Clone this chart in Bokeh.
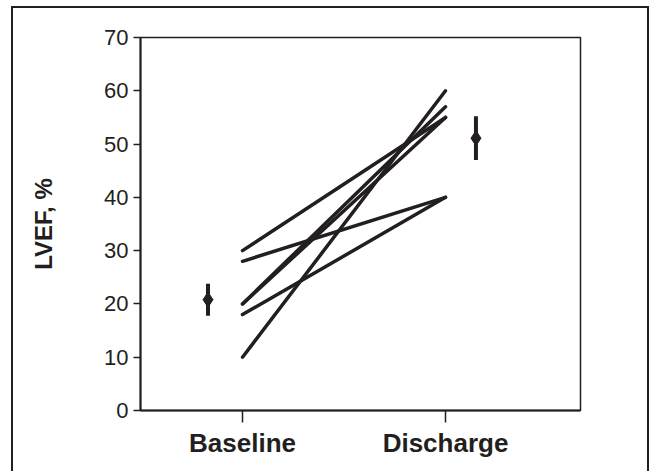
from bokeh.plotting import figure
from bokeh.models import Range1d, FixedTicker
from bokeh.embed import file_html
from bokeh.resources import INLINE

# ---- data ----
categories = ["Baseline", "Discharge"]
baseline = [30, 28, 20, 20, 18, 10]
discharge = [55, 40, 57, 55, 40, 60]
mean_values = [20.8, 51.1]
err_low = [17.8, 47.0]
err_high = [23.8, 55.2]
y_ticks = [0, 10, 20, 30, 40, 50, 60, 70]

INK = "#231f20"

cat_x = [1, 2]
mean_offset = [-0.17, 0.15]
mean_x = [c + o for c, o in zip(cat_x, mean_offset)]

p = figure(width=638, height=465, output_backend="svg", toolbar_location=None,
           x_range=Range1d(0.4975, 2.665), y_range=Range1d(0, 70),
           min_border_left=127, min_border_right=71, min_border_top=29, min_border_bottom=63)

p.styles = {"margin-left": "11px", "margin-top": "6px",
            "border-left": "2px solid #231f20",
            "border-top": "2px solid #231f20",
            "border-right": "2px solid #231f20"}

p.grid.visible = False
p.background_fill_color = "white"
p.border_fill_color = "white"
p.outline_line_color = INK
p.outline_line_width = 1.5
p.outline_line_alpha = 1.0

# individual patient lines
xs = [[cat_x[0], cat_x[1]] for _ in baseline]
ys = [[b, d] for b, d in zip(baseline, discharge)]
p.multi_line(xs=xs, ys=ys, line_color=INK, line_width=3.5, line_cap="round")

# mean +/- error
p.segment(x0=mean_x, y0=err_low, x1=mean_x, y1=err_high, line_color=INK, line_width=4)
p.scatter(x=mean_x, y=mean_values, marker="diamond", size=15, fill_color=INK, line_color=INK)

# axes
xa = p.xaxis[0]
xa.ticker = FixedTicker(ticks=cat_x)
xa.major_label_overrides = {cat_x[i]: categories[i] for i in range(len(categories))}
xa.major_tick_out = 12
xa.major_tick_in = 0
xa.minor_tick_out = 0
xa.minor_tick_in = 0
xa.axis_line_color = INK
xa.axis_line_width = 2
xa.major_tick_line_color = INK
xa.major_tick_line_width = 1.5
xa.major_label_text_font = "Liberation Sans"
xa.major_label_text_font_style = "bold"
xa.major_label_text_font_size = "26px"
xa.major_label_text_color = INK
xa.major_label_standoff = 5

ya = p.yaxis[0]
ya.ticker = FixedTicker(ticks=y_ticks)
ya.major_tick_out = 7
ya.major_tick_in = 0
ya.minor_tick_out = 0
ya.minor_tick_in = 0
ya.axis_line_color = INK
ya.axis_line_width = 2
ya.major_tick_line_color = INK
ya.major_tick_line_width = 1.5
ya.major_label_text_font = "Liberation Sans"
ya.major_label_text_font_size = "22px"
ya.major_label_text_color = INK
ya.major_label_standoff = 5
ya.axis_label = "LVEF, %"
ya.axis_label_text_font = "Liberation Sans"
ya.axis_label_text_font_style = "bold"
ya.axis_label_text_font_size = "24px"
ya.axis_label_text_color = INK
ya.axis_label_standoff = 44

open("out.html", "w").write(file_html(p, INLINE))
